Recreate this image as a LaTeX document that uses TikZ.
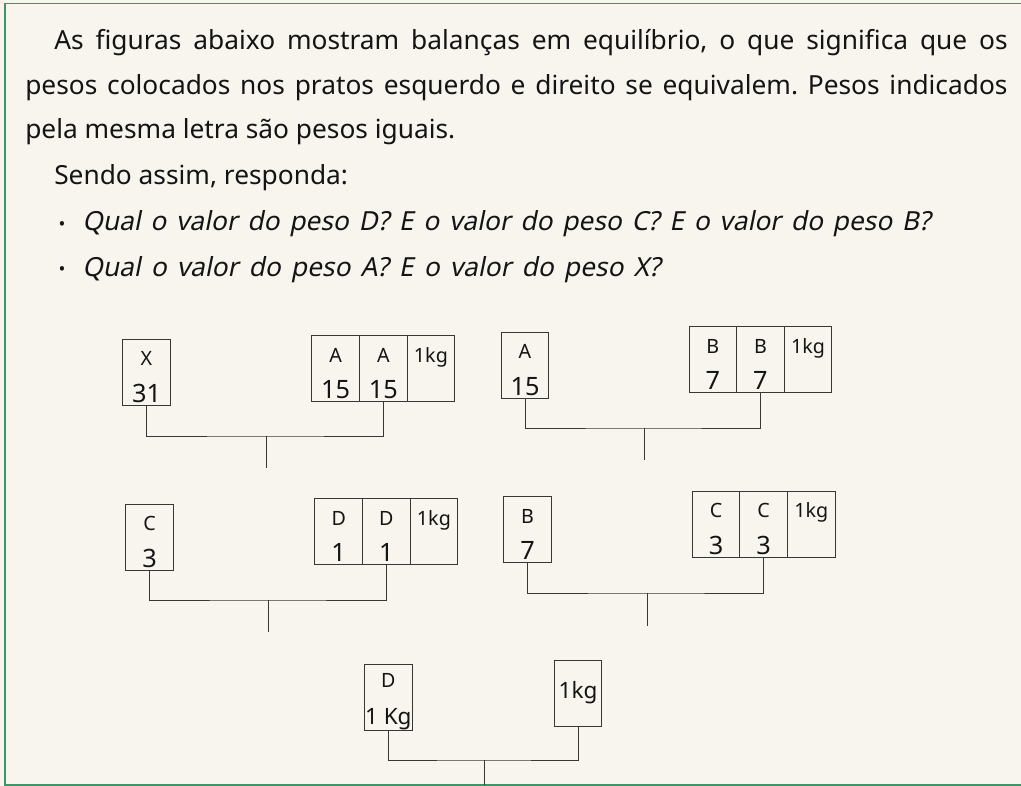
\documentclass[tikz,border=0pt]{standalone}
\usepackage{fontspec}
\setmainfont{Noto Sans}
\newfontfamily\inclinada[FakeSlant=0.2]{Noto Sans}
\usetikzlibrary{positioning}
\definecolor{papel}{RGB}{247,245,238}
\definecolor{moldura}{RGB}{62,150,104}
\definecolor{traco}{RGB}{55,55,55}
\definecolor{tinta}{RGB}{20,20,20}
\tikzstyle{prato} = [draw=traco,line width=0.6pt,minimum width=1.19cm,minimum height=1.65cm,inner sep=0pt,align=center,text=tinta,font=\fontsize{14pt}{26pt}\selectfont]
\tikzstyle{braco} = [draw=traco,line width=0.6pt]
\tikzstyle{linha} = [anchor=base west,inner sep=0pt,text=tinta,font=\fontsize{18.7pt}{20pt}\selectfont]
\newcommand{\peso}[2]{\rule{0pt}{17pt}#1\\{\fontsize{18pt}{26pt}\selectfont #2}}
\frenchspacing

\begin{document}
\begin{tikzpicture}[x=0.025cm,y=-0.025cm,node distance=1.19cm,on grid]
    \fill[papel] (0,0) rectangle (1021,786);
    \useasboundingbox (0,0) rectangle (1021,786);
    \draw[moldura,line width=1.4pt] (1021,3.5) -- (5,3.5) -- (5,785) -- (1021,785);
    % enunciado
    \node[linha] (t_1) at (54,50) {\makebox[23.83cm][s]{As figuras abaixo mostram balanças em equilíbrio, o que significa que os}};
    \node[linha] (t_2) at (25,95) {\makebox[24.55cm][s]{pesos colocados nos pratos esquerdo e direito se equivalem. Pesos indicados}};
    \node[linha] (t_3) at (25,139) {pela mesma letra são pesos iguais.};
    \node[linha] (t_4) at (54,185) {Sendo assim, responda:};
    \node[linha,anchor=center,font=\fontsize{13pt}{13pt}\selectfont] (m_1) at (62,226) {\textbullet};
    \node[linha,anchor=center,font=\fontsize{13pt}{13pt}\selectfont] (m_2) at (62,271) {\textbullet};
    \node[linha,font=\fontsize{18.7pt}{20pt}\inclinada] (q_1) at (82,231) {\makebox[21.2cm][s]{Qual o valor do peso D? E o valor do peso C? E o valor do peso B?}};
    \node[linha,font=\fontsize{18.7pt}{20pt}\inclinada] (q_2) at (82,277) {\makebox[14.45cm][s]{Qual o valor do peso A? E o valor do peso X?}};
    % balanca 1
    \node[prato] (e_1) at (146.5,372) {\peso{X}{31}};
    \node[prato] (d_11) at (335.7,368.5) {\peso{A}{15}};
    \node[prato][right=of d_11] (d_12) {\peso{A}{15}};
    \node[prato][right=of d_12] (d_13) {\peso{1kg}{\phantom{1}}};
    \coordinate (b_1) at (266,436);
    \coordinate (f_1) at (266,468);
    % balanca 2
    \node[prato] (e_2) at (525,365) {\peso{A}{15}};
    \node[prato] (d_21) at (712.8,359.5) {\peso{B}{7}};
    \node[prato][right=of d_21] (d_22) {\peso{B}{7}};
    \node[prato][right=of d_22] (d_23) {\peso{1kg}{\phantom{1}}};
    \coordinate (b_2) at (644,428);
    \coordinate (f_2) at (644,460);
    % balanca 3
    \node[prato] (e_3) at (149.5,537) {\peso{C}{3}};
    \node[prato] (d_31) at (338.7,531.5) {\peso{D}{1}};
    \node[prato][right=of d_31] (d_32) {\peso{D}{1}};
    \node[prato][right=of d_32] (d_33) {\peso{1kg}{\phantom{1}}};
    \coordinate (b_3) at (268,600);
    \coordinate (f_3) at (268,632);
    % balanca 4
    \node[prato] (e_4) at (527.5,529.5) {\peso{B}{7}};
    \node[prato] (d_41) at (716,524) {\peso{C}{3}};
    \node[prato][right=of d_41] (d_42) {\peso{C}{3}};
    \node[prato][right=of d_42] (d_43) {\peso{1kg}{\phantom{1}}};
    \coordinate (b_4) at (647,593);
    \coordinate (f_4) at (647,626);
    % balanca 5
    \node[prato] (e_5) at (388.3,697) {\peso{D}{\fontsize{16pt}{26pt}\selectfont 1 Kg}};
    \node[prato,font=\fontsize{16pt}{20pt}\selectfont] (d_5) at (578,693) {1kg};
    \coordinate (b_5) at (484.5,760);
    \coordinate (f_5) at (484.5,785);
    % bracos
    \draw[braco] (e_1.south) |- (b_1) -| (d_12.south);
    \draw[braco] (b_1) -- (f_1);
    \draw[braco] (e_2.south) |- (b_2) -| (d_22.south);
    \draw[braco] (b_2) -- (f_2);
    \draw[braco] (e_3.south) |- (b_3) -| (d_32.south);
    \draw[braco] (b_3) -- (f_3);
    \draw[braco] (e_4.south) |- (b_4) -| (d_42.south);
    \draw[braco] (b_4) -- (f_4);
    \draw[braco] (e_5.south) |- (b_5) -| (d_5.south);
    \draw[braco] (b_5) -- (f_5);
\end{tikzpicture}
\end{document}
